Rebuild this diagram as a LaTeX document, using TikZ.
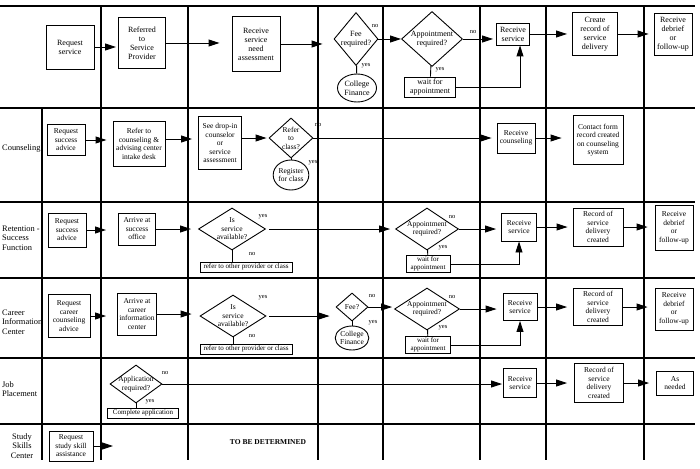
\documentclass[tikz,border=0pt]{standalone}
\usepackage{fontspec}
\setmainfont{Liberation Serif}
\usetikzlibrary{positioning, shapes.geometric, arrows.meta}

\begin{document}
\begin{tikzpicture}[x=1pt, y=-1pt, >=latex]
      \tikzstyle{process} = [rectangle, draw=black, line width=0.9pt, inner sep=1pt, align=center, font=\fontsize{7.5}{8.5}\selectfont]
      \tikzstyle{decision} = [diamond, draw=black, line width=0.9pt, inner sep=-3pt, aspect=1.5, align=center, font=\fontsize{7.5}{8.5}\selectfont]
      \tikzstyle{terminal} = [ellipse, draw=black, line width=0.9pt, inner sep=0pt, align=center, font=\fontsize{7.5}{8.5}\selectfont]
      \tikzstyle{big} = [font=\fontsize{8}{9}\selectfont]
      \tikzstyle{lane} = [anchor=west, align=left, inner sep=0pt, font=\fontsize{8.4}{9.5}\selectfont]
      \tikzstyle{answer} = [inner sep=0pt, font=\fontsize{6.5}{7}\selectfont]
      \tikzstyle{arrow} = [line width=0.9pt, -{Triangle[length=11pt, width=7pt]}]
      \tikzstyle{link} = [line width=0.9pt]
      \tikzstyle{grid} = [line width=1.3pt]

      \useasboundingbox (0,0) rectangle (700,468);

      % swim lanes
      \foreach \y in {6,108,202,278,358,424}
        \draw [grid] (0,\y) -- (695,\y);
      \foreach \x in {101,188,318,383,480,546,644}
        \draw [grid] (\x,6) -- (\x,460);
      \draw [grid] (42,108) -- (42,460);

      \node (lane2) [lane] at (2,148) {Counseling};
      \node (lane3) [lane] at (2,238) {Retention -\\Success\\Function};
      \node (lane4) [lane] at (2,322) {Career\\Information\\Center};
      \node (lane5) [lane] at (2,389) {Job\\Placement};
      \node (lane6) [lane, anchor=center, align=center] at (22,446) {Study\\Skills\\Center};

      % general flow
      \node (req1) [process, big, minimum width=48, minimum height=44] at (70,47) {Request\\service};
      \node (ref1) [process, big, minimum width=47, minimum height=51] at (142,43) {Referred\\to\\Service\\Provider};
      \node (need1) [process, big, minimum width=48, minimum height=55] at (256,44) {Receive\\service\\need\\assessment};
      \node (fee1) [decision, big, minimum width=44, minimum height=53] at (356,39) {Fee\\required?};
      \node (fin1) [terminal, big, minimum width=39, minimum height=28] at (357,88) {College\\Finance};
      \node (appt1) [decision, big, minimum width=61, minimum height=55] at (432,39) {Appointment\\required?};
      \node (wait1) [process, big, minimum width=51, minimum height=20] at (430,87) {wait for\\appointment};
      \node (recv1) [process, big, minimum width=33, minimum height=22] at (513,34) {Receive\\service};
      \node (rec1) [process, big, minimum width=45, minimum height=43] at (595,34) {Create\\record of\\service\\delivery};
      \node (deb1) [process, big, minimum width=38, minimum height=42] at (673,34) {Receive\\debrief\\or\\follow-up};

      \node (fee1no) [answer] at (375,26) {no};
      \node (fee1yes) [answer] at (366,66) {yes};
      \node (appt1no) [answer] at (473,32) {no};
      \node (appt1yes) [answer] at (440,70) {yes};

      \draw [arrow, shorten >=2pt] (req1) -- (req1 -| ref1.west);
      \draw [arrow, shorten >=12pt] (ref1) -- (ref1 -| need1.west);
      \draw [arrow, shorten >=11pt] (need1) -- (need1 -| fee1.west);
      \draw [link] (fee1) -- (fin1);
      \draw [arrow] (fee1) -- (appt1);
      \draw [link] (appt1) -- (wait1);
      \draw [arrow, shorten >=3pt] (appt1) -- (appt1 -| recv1.west);
      \draw [arrow] (wait1) -| ([xshift=7pt]recv1.south);
      \draw [arrow, shorten >=5pt] (recv1) -- (recv1 -| rec1.west);
      \draw [arrow, shorten >=5pt] (rec1) -- (rec1 -| deb1.west);

      % counseling
      \node (req2) [process, minimum width=38, minimum height=31] at (66,140) {Request\\success\\advice};
      \node (ref2) [process, minimum width=52, minimum height=45] at (139,144) {Refer to\\counseling \&\\advising center\\intake desk};
      \node (see2) [process, minimum width=43, minimum height=53] at (220,143) {See drop-in\\counselor\\or\\service\\assessment};
      \node (cls2) [decision, minimum width=44, minimum height=40] at (291,138) {Refer\\to\\class?};
      \node (reg2) [terminal, minimum width=33, minimum height=30] at (291,175) {Register\\for class};
      \node (recv2) [process, minimum width=38, minimum height=30] at (516,138) {Receive\\counseling};
      \node (form2) [process, minimum width=50, minimum height=49] at (598,140) {Contact form\\record created\\on counseling\\system};

      \node (cls2no) [answer] at (318,125) {no};
      \node (cls2yes) [answer] at (313,163) {yes};

      \draw [arrow, shorten >=6pt] (req2) -- (req2 -| ref2.west);
      \draw [arrow, shorten >=6pt] ([yshift=5pt]ref2.east) -- ([yshift=5pt]ref2.east -| see2.west);
      \draw [arrow, shorten >=2pt] ([yshift=5pt]see2.east) -- (cls2);
      \draw [link] (cls2) -- (reg2);
      \draw [arrow, shorten >=5pt] (cls2) -- (recv2);
      \draw [arrow, shorten >=11pt] (recv2) -- (recv2 -| form2.west);

      % retention
      \node (req3) [process, minimum width=38, minimum height=34] at (67,230) {Request\\success\\advice};
      \node (arr3) [process, minimum width=37, minimum height=32] at (137,229) {Arrive at\\success\\office};
      \node (svc3) [decision, minimum width=67, minimum height=42] at (232,229) {Is\\service\\available?};
      \node (oth3) [process, font=\fontsize{7}{8}\selectfont, minimum width=92, minimum height=10] at (246,267) {refer to other provider or class};
      \node (appt3) [decision, minimum width=63, minimum height=42] at (427,229) {Appointment\\required?};
      \node (wait3) [process, font=\fontsize{7}{7.5}\selectfont, minimum width=44, minimum height=17] at (428,264) {wait for\\appointment};
      \node (recv3) [process, minimum width=35, minimum height=28] at (519,227) {Receive\\service};
      \node (rec3) [process, minimum width=50, minimum height=38] at (598,227) {Record of\\service\\delivery\\created};
      \node (deb3) [process, minimum width=38, minimum height=45] at (674,228) {Receive\\debrief\\or\\follow-up};

      \node (svc3yes) [answer] at (263,217) {yes};
      \node (svc3no) [answer] at (252,254) {no};
      \node (appt3no) [answer] at (452,217) {no};
      \node (appt3yes) [answer] at (443,248) {yes};

      \draw [arrow, shorten >=12pt] (req3) -- (req3 -| arr3.west);
      \draw [arrow, shorten >=7pt] (arr3) -- (arr3 -| svc3.west);
      \draw [link] (svc3) -- (svc3 |- oth3.north);
      \draw [arrow, shorten <=3pt, shorten >=5pt] (svc3) -- (appt3);
      \draw [link] (appt3) -- (wait3);
      \draw [arrow, shorten >=5pt] (appt3) -- (appt3 -| recv3.west);
      \draw [arrow] (wait3) -| (recv3);
      \draw [arrow, shorten >=5pt] (recv3) -- (recv3 -| rec3.west);
      \draw [arrow, shorten >=7pt] (rec3) -- (rec3 -| deb3.west);

      % career information
      \node (req4) [process, minimum width=42, minimum height=43] at (69,316) {Request\\career\\counseling\\advice};
      \node (arr4) [process, minimum width=39, minimum height=42] at (137,314) {Arrive at\\career\\information\\center};
      \node (svc4) [decision, minimum width=66, minimum height=42] at (233,316) {Is\\service\\available?};
      \node (oth4) [process, font=\fontsize{7}{8}\selectfont, minimum width=92, minimum height=10] at (246,349) {refer to other provider or class};
      \node (fee4) [decision, minimum width=32, minimum height=28] at (352,307) {Fee?};
      \node (fin4) [terminal, minimum width=31, minimum height=24] at (352,338) {College\\Finance};
      \node (appt4) [decision, minimum width=65, minimum height=42] at (427,309) {Appointment\\required?};
      \node (wait4) [process, font=\fontsize{7}{7.5}\selectfont, minimum width=45, minimum height=17] at (428,345) {wait for\\appointment};
      \node (recv4) [process, minimum width=34, minimum height=27] at (520,307) {Receive\\service};
      \node (rec4) [process, minimum width=49, minimum height=37] at (598,307) {Record of\\service\\delivery\\created};
      \node (deb4) [process, minimum width=38, minimum height=42] at (674,309) {Receive\\debrief\\or\\follow-up};

      \node (svc4yes) [answer] at (263,298) {yes};
      \node (svc4no) [answer] at (252,336) {no};
      \node (fee4no) [answer] at (372,296) {no};
      \node (fee4yes) [answer] at (373,323) {yes};
      \node (appt4no) [answer] at (452,297) {no};
      \node (appt4yes) [answer] at (443,328) {yes};

      \draw [arrow, shorten >=11pt] (req4) -- (req4 -| arr4.west);
      \draw [arrow, shorten >=8pt] (arr4) -- (arr4 -| svc4.west);
      \draw [link] (svc4) -- (svc4 |- oth4.north);
      \draw [arrow, shorten <=3pt, shorten >=6pt] (svc4) -- (svc4 -| fee4.west);
      \draw [link] (fee4) -- (fin4);
      \draw [arrow, shorten >=2pt] (fee4) -- (fee4 -| appt4.west);
      \draw [link] (appt4) -- (wait4);
      \draw [arrow, shorten >=6pt] (appt4) -- (appt4 -| recv4.west);
      \draw [arrow] (wait4) -| (recv4);
      \draw [arrow, shorten >=6pt] (recv4) -- (recv4 -| rec4.west);
      \draw [arrow, shorten >=7pt] (rec4) -- (rec4 -| deb4.west);

      % job placement
      \node (app5) [decision, minimum width=52, minimum height=38] at (136,384) {Application\\required?};
      \node (comp5) [process, font=\fontsize{7}{8}\selectfont, minimum width=71, minimum height=10] at (143,413) {Complete application};
      \node (recv5) [process, minimum width=33, minimum height=29] at (520,383) {Receive\\service};
      \node (rec5) [process, minimum width=49, minimum height=39] at (599,383) {Record of\\service\\delivery\\created};
      \node (need5) [process, minimum width=37, minimum height=24] at (675,383) {As\\needed};

      \node (app5no) [answer] at (165,373) {no};
      \node (app5yes) [answer] at (150,402) {yes};

      \draw [link] (app5) -- (app5 |- comp5.north);
      \draw [arrow, shorten >=1pt] (app5) -- (app5 -| recv5.west);
      \draw [arrow, shorten >=7pt] (recv5) -- (recv5 -| rec5.west);
      \draw [arrow, shorten >=7pt] (rec5) -- (rec5 -| need5.west);

      % study skills
      \node (req6) [process, minimum width=44, minimum height=30] at (71,446) {Request\\study skill\\assistance};
      \coordinate (end6) at (113,446);
      \node (tbd6) [font=\bfseries\fontsize{7.5}{9}\selectfont] at (268,442) {TO BE DETERMINED};

      \draw [arrow] (req6) -- (end6);

    \end{tikzpicture}
\end{document}
